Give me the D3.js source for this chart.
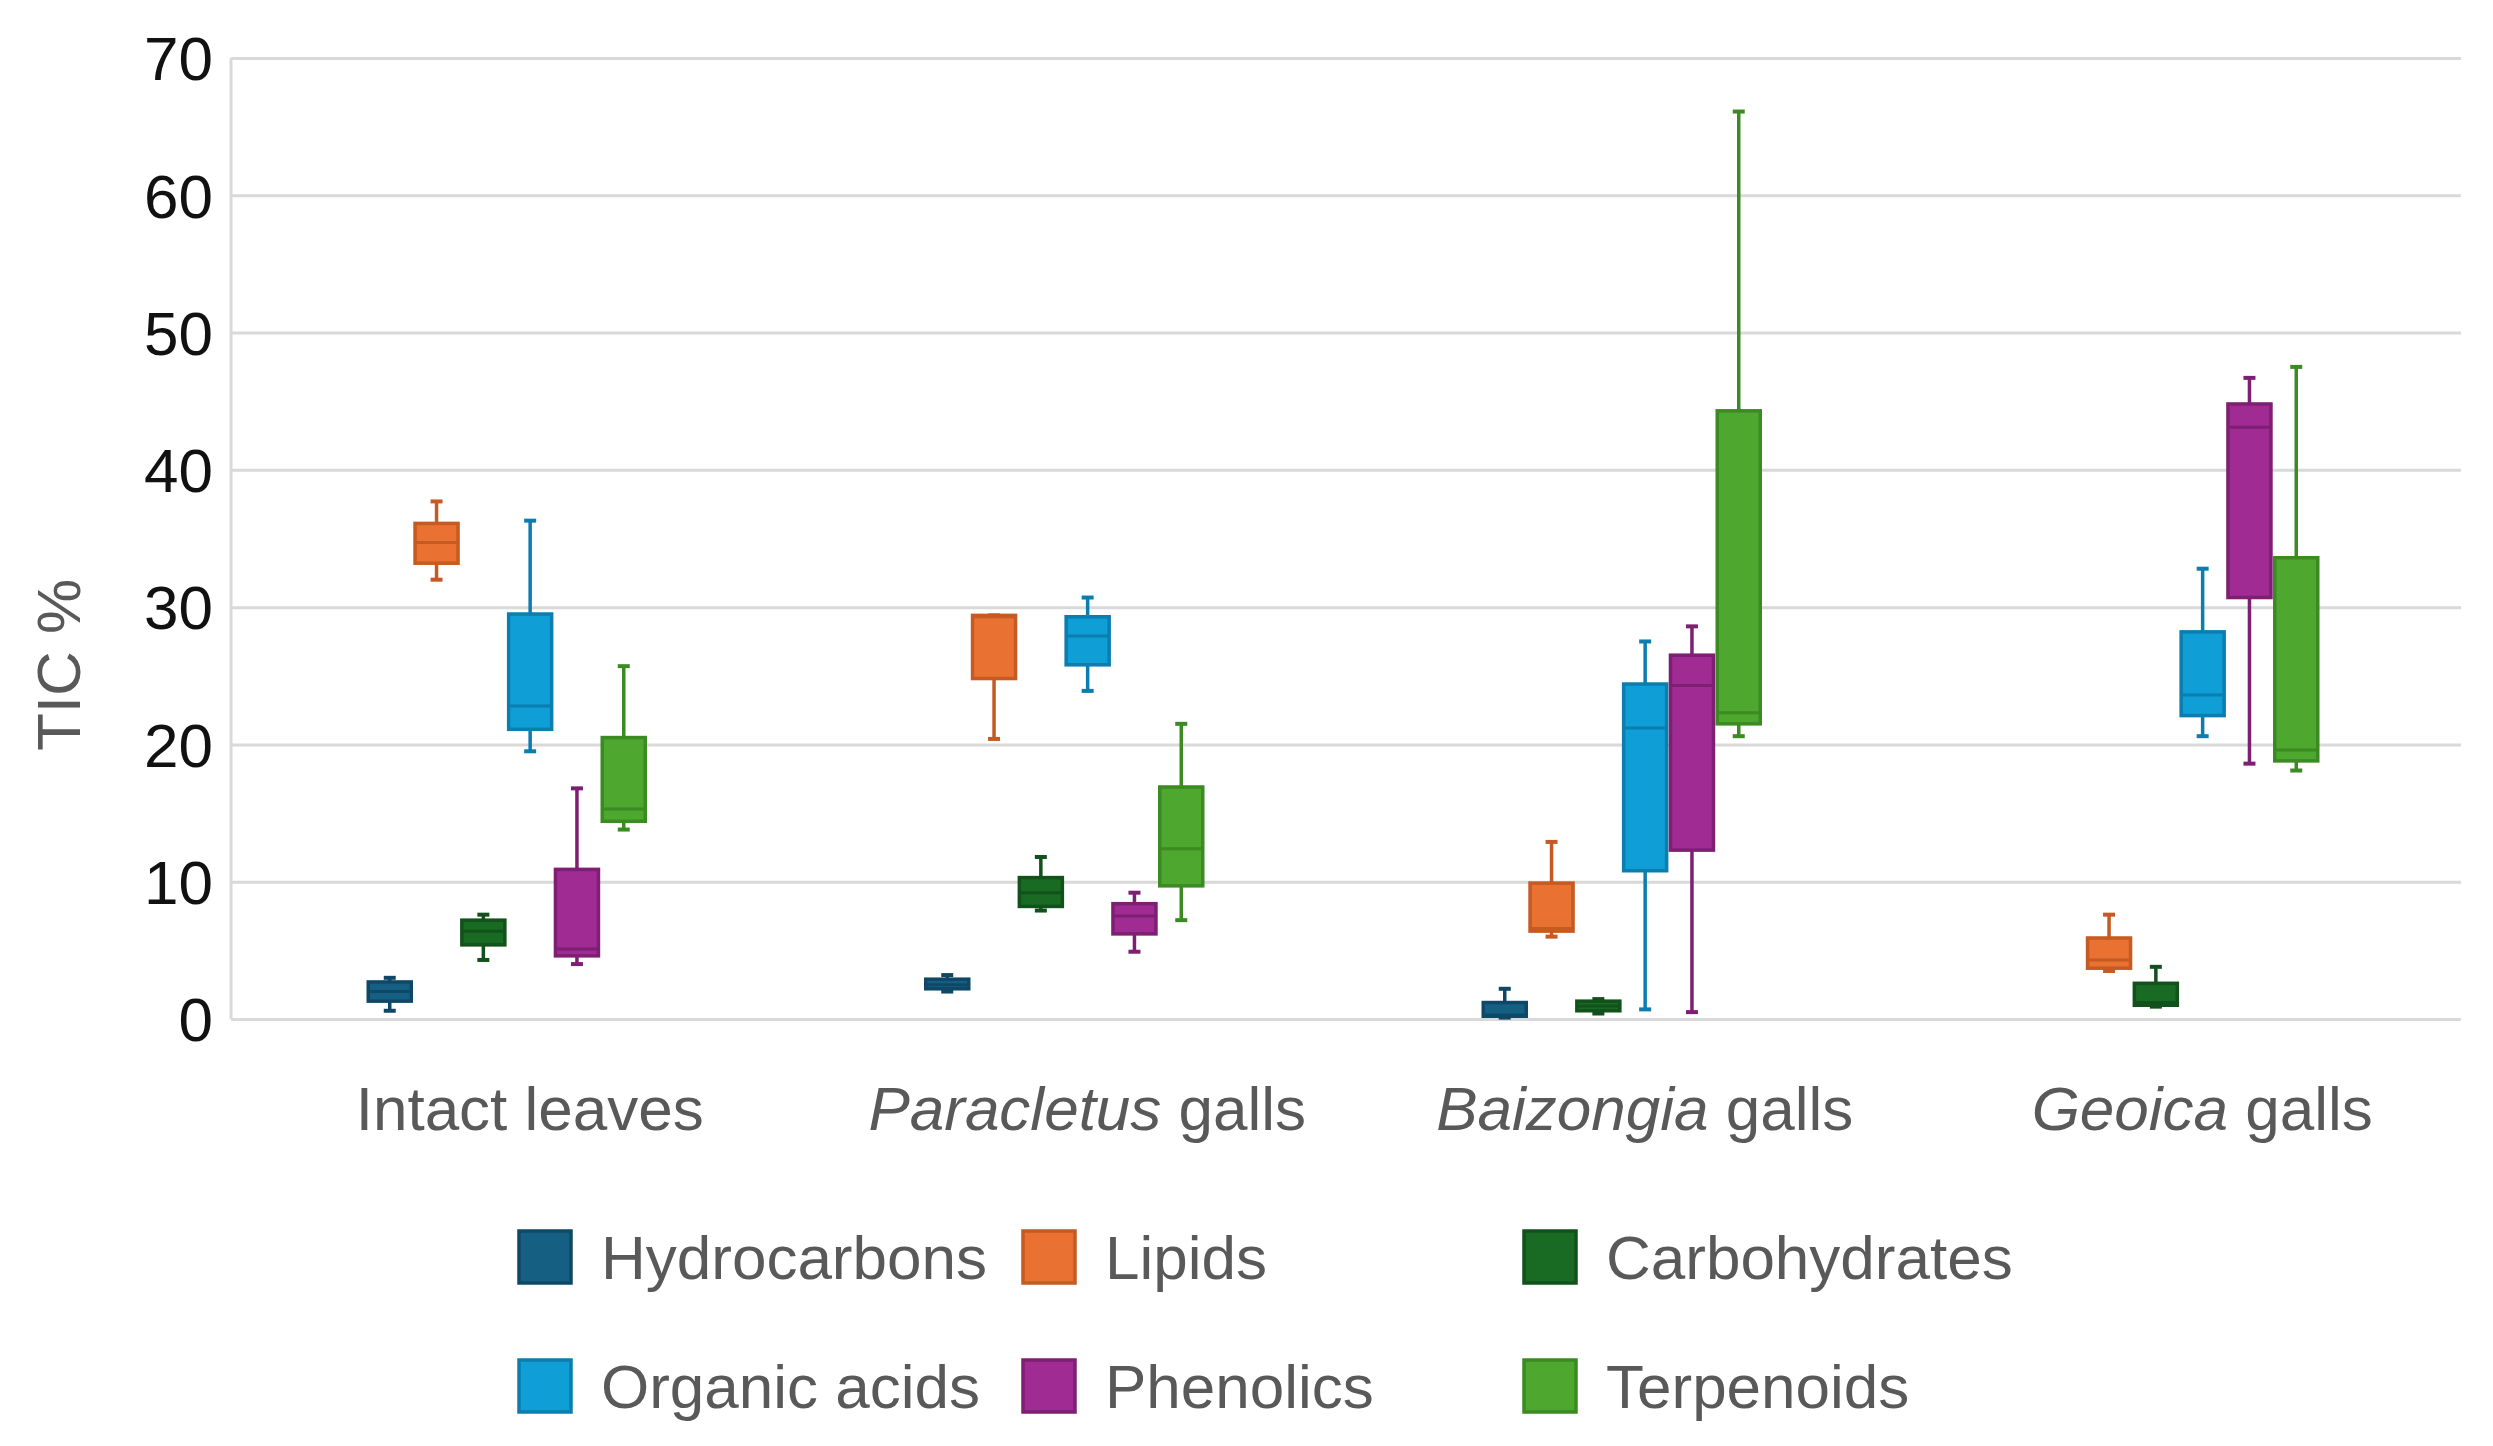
<!DOCTYPE html>
<html>
<head>
<meta charset="utf-8">
<script src="https://cdn.jsdelivr.net/npm/d3@7"></script>
<style>
  html, body { margin: 0; padding: 0; background: #ffffff; }
  svg { display: block; }
  text { font-family: "Liberation Sans", Arial, sans-serif; }
</style>
</head>
<body>
<svg id="chart" width="2493" height="1446"></svg>
<script>
// ---------- data ----------
const categories = ["Intact leaves", "Paracletus galls", "Baizongia galls", "Geoica galls"];
const categoryItalic = ["", "Paracletus", "Baizongia", "Geoica"];
const categoryRest = ["Intact leaves", " galls", " galls", " galls"];
const seriesNames = ["Hydrocarbons", "Lipids", "Carbohydrates", "Organic acids", "Phenolics", "Terpenoids"];
const fillColors = ["#156082", "#E97132", "#196B24", "#0F9ED5", "#A02B93", "#4EA72E"];
const lineColors = ["#0F4866", "#C55A22", "#12511B", "#0B7DAE", "#7D1F72", "#3B8A22"];
const yTicks = [0, 10, 20, 30, 40, 50, 60, 70];

// five-number summaries per category: [min, q1, median, q3, max]
const hydrocarbons = [[0.6, 1.3, 2.0, 2.7, 3.0], [2.0, 2.2, 2.5, 2.9, 3.2], [0.1, 0.2, 0.3, 1.2, 2.2], null];
const lipids = [[32.0, 33.2, 34.7, 36.1, 37.7], [20.4, 24.8, 29.3, 29.4, 29.4], [6.0, 6.4, 6.6, 9.9, 12.9], [3.5, 3.7, 4.3, 5.9, 7.6]];
const carbohydrates = [[4.3, 5.4, 6.4, 7.2, 7.6], [7.9, 8.2, 9.2, 10.3, 11.8], [0.4, 0.6, 0.95, 1.3, 1.45], [0.9, 1.0, 1.2, 2.6, 3.8]];
const organicAcids = [[19.5, 21.1, 22.8, 29.5, 36.3], [23.9, 25.8, 27.9, 29.3, 30.7], [0.7, 10.8, 21.2, 24.4, 27.5], [20.6, 22.1, 23.6, 28.2, 32.8]];
const phenolics = [[4.0, 4.6, 5.1, 10.9, 16.8], [4.9, 6.2, 7.5, 8.4, 9.2], [0.5, 12.3, 24.3, 26.5, 28.6], [18.6, 30.7, 43.1, 44.8, 46.7]];
const terpenoids = [[13.8, 14.4, 15.3, 20.5, 25.7], [7.2, 9.7, 12.4, 16.9, 21.5], [20.6, 21.5, 22.3, 44.3, 66.1], [18.1, 18.8, 19.6, 33.6, 47.5]];
const seriesValues = [hydrocarbons, lipids, carbohydrates, organicAcids, phenolics, terpenoids];

// ---------- layout ----------
const plot = { left: 231, right: 2461, top: 58, bottom: 1019 };
const svg = d3.select("#chart");

const x = d3.scaleBand().domain(categories).range([plot.left, plot.right]).paddingInner(0).paddingOuter(0);
const inner = d3.scaleBand().domain(seriesNames).range([-140.4, 140.4]);
const y = d3.scaleLinear().domain([0, 70]).range([plot.bottom, plot.top]);

const groupShift = -3;
const boxW = 43;
const capW = 12;

// gridlines
const grid = svg.append("g").attr("transform", `translate(${plot.left},0)`)
  .call(d3.axisLeft(y).tickValues(yTicks).tickSize(-(plot.right - plot.left)).tickFormat(""));
grid.select(".domain").remove();
grid.selectAll(".tick line").attr("stroke", "#d9d9d9").attr("stroke-width", 3);

// left axis line
svg.append("line")
  .attr("x1", plot.left).attr("x2", plot.left)
  .attr("y1", y(0)).attr("y2", y(70))
  .attr("stroke", "#d9d9d9").attr("stroke-width", 3);

// y tick labels
svg.append("g").selectAll("text").data(yTicks).join("text")
  .attr("x", 213).attr("y", d => y(d)).attr("dy", "0.36em")
  .attr("text-anchor", "end").attr("font-size", 62).attr("fill", "#111111")
  .text(d => d);

// y axis title
svg.append("text")
  .attr("transform", "translate(58,665) rotate(-90)")
  .attr("text-anchor", "middle").attr("dy", "0.36em")
  .attr("font-size", 62).attr("fill", "#595959")
  .text("TIC %");

// category labels
const catLab = svg.append("g").selectAll("text").data(categories).join("text")
  .attr("x", d => x(d) + x.bandwidth() / 2 + 20).attr("y", 1130)
  .attr("text-anchor", "middle").attr("font-size", 62).attr("fill", "#595959");
catLab.each(function(d, i) {
  const t = d3.select(this);
  if (categoryItalic[i]) t.append("tspan").attr("font-style", "italic").text(categoryItalic[i]);
  t.append("tspan").text(categoryRest[i]);
});

// boxes
const boxes = [];
seriesNames.forEach((s, si) => {
  categories.forEach((c, ci) => {
    const v = seriesValues[si][ci];
    if (v) boxes.push({ s, si, c, v, cx: x(c) + x.bandwidth() / 2 + groupShift + inner(s) + inner.bandwidth() / 2 });
  });
});

const bg = svg.append("g").selectAll("g").data(boxes).join("g");
// whiskers
bg.append("line")
  .attr("x1", d => d.cx).attr("x2", d => d.cx)
  .attr("y1", d => y(d.v[4])).attr("y2", d => y(d.v[0]))
  .attr("stroke", d => lineColors[d.si]).attr("stroke-width", 3.5);
// caps
[0, 4].forEach(k => {
  bg.append("line")
    .attr("x1", d => d.cx - capW / 2).attr("x2", d => d.cx + capW / 2)
    .attr("y1", d => y(d.v[k])).attr("y2", d => y(d.v[k]))
    .attr("stroke", d => lineColors[d.si]).attr("stroke-width", 4);
});
// box
bg.append("rect")
  .attr("x", d => d.cx - boxW / 2).attr("width", boxW)
  .attr("y", d => y(d.v[3])).attr("height", d => Math.max(1, y(d.v[1]) - y(d.v[3])))
  .attr("fill", d => fillColors[d.si]).attr("stroke", d => lineColors[d.si]).attr("stroke-width", 3.5);
// median
bg.append("line")
  .attr("x1", d => d.cx - boxW / 2).attr("x2", d => d.cx + boxW / 2)
  .attr("y1", d => y(d.v[2])).attr("y2", d => y(d.v[2]))
  .attr("stroke", d => lineColors[d.si]).attr("stroke-width", 3);

// legend
const legendCols = [517, 1021, 1522];
const legendRows = [1257, 1386];
const lg = svg.append("g").selectAll("g").data(seriesNames).join("g")
  .attr("transform", (d, i) => `translate(${legendCols[i % 3]},${legendRows[Math.floor(i / 3)]})`);
lg.append("rect")
  .attr("x", 2).attr("y", -26).attr("width", 52).attr("height", 52)
  .attr("fill", (d, i) => fillColors[i]).attr("stroke", (d, i) => lineColors[i]).attr("stroke-width", 3.5);
lg.append("text")
  .attr("x", 84).attr("y", 0).attr("dy", "0.36em")
  .attr("font-size", 62).attr("fill", "#595959")
  .text(d => d);
</script>
</body>
</html>
